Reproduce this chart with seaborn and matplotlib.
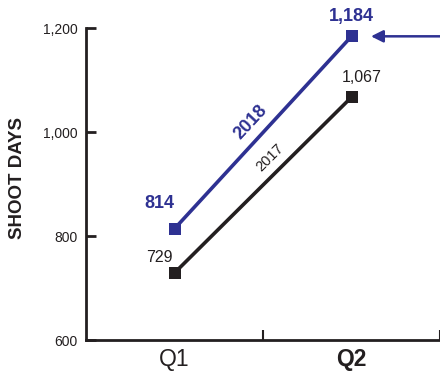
import matplotlib
matplotlib.use("Agg")
import matplotlib.pyplot as plt
from matplotlib import font_manager
import seaborn as sns
import pandas as pd

quarters = ["Q1", "Q2"]
years = ["2017", "2018"]
days_2017 = [729, 1067]
days_2018 = [814, 1184]
y_ticks = [600, 800, 1000, 1200]

BLUE = "#2e3192"
BLACK = "#231f20"

sns.set_theme(style="white")
names = {f.name for f in font_manager.fontManager.ttflist}
cond = "Liberation Sans Narrow" if "Liberation Sans Narrow" in names else "Liberation Sans"
plt.rcParams["font.family"] = [cond, "DejaVu Sans"]

df = pd.DataFrame({
    "pos": list(range(len(quarters))) * 2,
    "days": days_2017 + days_2018,
    "year": [years[0]] * len(quarters) + [years[1]] * len(quarters),
})

fig = plt.figure(figsize=(4.4, 3.74), dpi=100)
ax = fig.add_axes([86 / 440, 1 - 340 / 374, 1 - 86 / 440, (340 - 28) / 374])

sns.lineplot(data=df, x="pos", y="days", hue="year",
             palette={"2017": BLACK, "2018": BLUE},
             marker="s", markersize=9, markeredgewidth=0,
             linewidth=2.6, legend=False, ax=ax, zorder=3)

ax.set_xlim(-0.5, 1.5)
ax.set_ylim(600, 1200)
ax.set_yticks(y_ticks)
ax.set_yticklabels([f"{v:,}" for v in y_ticks], fontsize=10)
ax.set_xticks([0.5, 1.5])
ax.set_xticklabels([])
ax.tick_params(axis="y", direction="in", length=7, width=2, color=BLACK,
               pad=6, labelcolor=BLACK, left=True)
ax.tick_params(axis="x", direction="in", length=7, width=1.5, color=BLACK,
               bottom=True)
for side in ["top", "right"]:
    ax.spines[side].set_visible(False)
for side in ["left", "bottom"]:
    ax.spines[side].set_color(BLACK)
    ax.spines[side].set_linewidth(2)
ax.set_xlabel("")
ax.set_ylabel("")
fig.text(18 / 440, 1 - 178 / 374, "SHOOT DAYS", rotation=90, ha="center", va="center",
         fontsize=13.5, fontweight="bold", color=BLACK)

# quarter labels under the axis
for i, q in enumerate(quarters):
    ax.text(i, -0.025, q, transform=ax.get_xaxis_transform(), ha="center", va="top",
            fontsize=16.5, color=BLACK, fontweight="bold" if i == 1 else "normal")

# value labels
ax.annotate(f"{days_2018[0]:,}", (0, days_2018[0]), xytext=(-11, 12), textcoords="offset points",
            ha="center", va="bottom", fontsize=13, fontweight="bold", color=BLUE)
ax.annotate(f"{days_2017[0]:,}", (0, days_2017[0]), xytext=(-11, 6), textcoords="offset points",
            ha="center", va="bottom", fontsize=11.5, color=BLACK)
ax.annotate(f"{days_2018[1]:,}", (1, days_2018[1]), xytext=(0, 8), textcoords="offset points",
            ha="center", va="bottom", fontsize=13, fontweight="bold", color=BLUE)
ax.annotate(f"{days_2017[1]:,}", (1, days_2017[1]), xytext=(7, 9), textcoords="offset points",
            ha="center", va="bottom", fontsize=11.5, color=BLACK)

# series labels along the lines
ax.text(0.43, 1018, years[1], rotation=47, ha="center", va="center",
        fontsize=13, fontweight="bold", color=BLUE, rotation_mode="anchor")
ax.text(0.537, 950, years[0], rotation=45, ha="center", va="center",
        fontsize=10.5, color=BLACK, rotation_mode="anchor")

# pointer to the latest 2018 value
ax.annotate("", xy=(1.11, days_2018[1]), xytext=(1.55, days_2018[1]),
            arrowprops=dict(arrowstyle="-|>", color=BLUE, lw=1.8,
                            mutation_scale=18, shrinkA=0, shrinkB=0),
            annotation_clip=False)

fig.savefig("out.png", dpi=100)
